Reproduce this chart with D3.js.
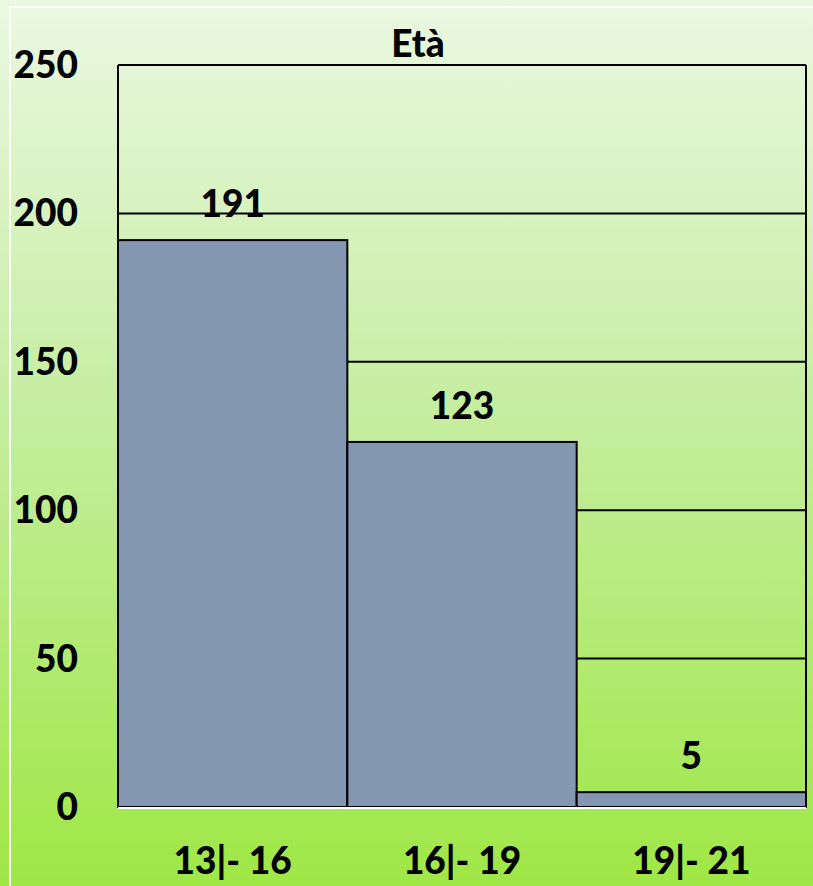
<!DOCTYPE html>
<html>
<head>
<meta charset="utf-8">
<script src="https://cdn.jsdelivr.net/npm/d3@7"></script>
<style>
  html, body { margin: 0; padding: 0; overflow: hidden; }
  svg { display: block; font-family: Lato, "Open Sans", sans-serif; font-weight: 900; }
</style>
</head>
<body>
<svg id="chart"></svg>
<script>
const categories = ["13|- 16", "16|- 19", "19|- 21"];
const values = [191, 123, 5];
const yTicks = [0, 50, 100, 150, 200, 250];
const title = "Età";

const width = 813;
const height = 886;
const margin = { top: 65, right: 7, bottom: 79, left: 118 };
const fontSize = "37px";

const svg = d3.select("#chart")
    .attr("width", width)
    .attr("height", height);

// background gradient (light green at top, bright green at bottom)
const defs = svg.append("defs");
const grad = defs.append("linearGradient")
    .attr("id", "bg")
    .attr("x1", 0).attr("y1", 0)
    .attr("x2", 0).attr("y2", 1);
grad.append("stop").attr("offset", "0%").attr("stop-color", "#ebf8e1");
grad.append("stop").attr("offset", "45%").attr("stop-color", "#c6eea2");
grad.append("stop").attr("offset", "100%").attr("stop-color", "#9fe745");

svg.append("rect")
    .attr("width", width)
    .attr("height", height)
    .attr("fill", "url(#bg)");

// thin white frame
svg.append("rect")
    .attr("x", 10)
    .attr("y", 7)
    .attr("width", width)
    .attr("height", height)
    .attr("fill", "none")
    .attr("stroke", "#fff")
    .attr("stroke-width", 2);

const xScale = d3.scaleBand()
    .domain(categories)
    .range([margin.left, width - margin.right])
    .padding(0);

const yScale = d3.scaleLinear()
    .domain([0, 250])
    .range([height - margin.bottom, margin.top]);

// gridlines
svg.append("g")
    .selectAll("line")
    .data(yTicks.filter(d => d > 0))
    .enter()
    .append("line")
    .attr("x1", margin.left)
    .attr("x2", width - margin.right)
    .attr("y1", d => yScale(d))
    .attr("y2", d => yScale(d))
    .attr("stroke", "#000")
    .attr("stroke-width", 2);

// right border
svg.append("line")
    .attr("x1", width - margin.right)
    .attr("x2", width - margin.right)
    .attr("y1", yScale(250))
    .attr("y2", yScale(0))
    .attr("stroke", "#000")
    .attr("stroke-width", 2);

// bars
svg.append("g")
    .selectAll("rect")
    .data(values)
    .enter()
    .append("rect")
    .attr("x", (d, i) => xScale(categories[i]))
    .attr("y", d => yScale(d))
    .attr("width", xScale.bandwidth())
    .attr("height", d => yScale(0) - yScale(d))
    .attr("fill", "#8497b0")
    .attr("stroke", "#000")
    .attr("stroke-width", 2);

// baseline (white) and left axis
svg.append("line")
    .attr("x1", margin.left)
    .attr("x2", width - margin.right)
    .attr("y1", yScale(0) + 1)
    .attr("y2", yScale(0) + 1)
    .attr("stroke", "#fff")
    .attr("stroke-width", 2);

svg.append("line")
    .attr("x1", margin.left)
    .attr("x2", margin.left)
    .attr("y1", yScale(250))
    .attr("y2", yScale(0))
    .attr("stroke", "#000")
    .attr("stroke-width", 2);

// y tick labels
const yAxis = svg.append("g")
    .attr("transform", `translate(${margin.left},0)`)
    .call(d3.axisLeft(yScale).tickValues(yTicks).tickSize(0).tickPadding(40));
yAxis.select(".domain").remove();
yAxis.selectAll("text")
    .attr("font-family", "Lato, 'Open Sans', sans-serif")
    .attr("font-weight", "900")
    .attr("font-size", fontSize)
    .attr("fill", "#000")
    .attr("dy", "0.34em");

// x tick labels
const xAxis = svg.append("g")
    .attr("transform", `translate(0, ${yScale(0)})`)
    .call(d3.axisBottom(xScale).tickSize(0).tickPadding(41));
xAxis.select(".domain").remove();
xAxis.selectAll("text")
    .attr("font-family", "Lato, 'Open Sans', sans-serif")
    .attr("font-weight", "900")
    .attr("font-size", fontSize)
    .attr("fill", "#000");

// value labels
svg.append("g")
    .selectAll("text")
    .data(values)
    .enter()
    .append("text")
    .attr("x", (d, i) => xScale(categories[i]) + xScale.bandwidth() / 2)
    .attr("y", d => yScale(d) - 23)
    .attr("text-anchor", "middle")
    .attr("font-size", fontSize)
    .text(d => d);

// title
svg.append("text")
    .attr("x", 418)
    .attr("y", 57)
    .attr("text-anchor", "middle")
    .attr("font-size", fontSize)
    .text(title);
</script>
</body>
</html>
